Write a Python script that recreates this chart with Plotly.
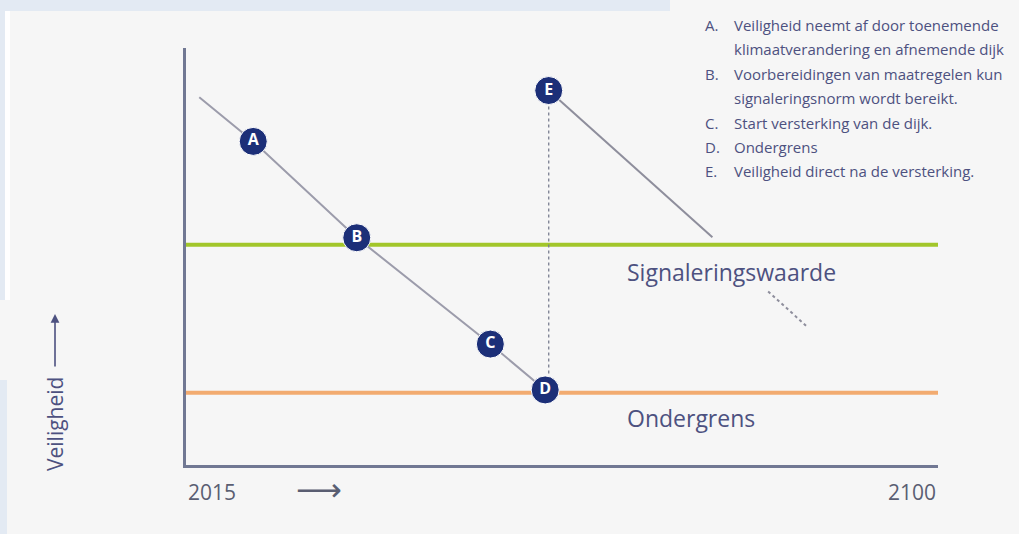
import plotly.graph_objects as go

# data (years on x, arbitrary "veiligheid" 0-100 on y)
decline_years = [2016.5, 2022.6, 2034.3, 2049.4, 2055.6]
decline_vals = [88.2, 77.6, 54.5, 29.0, 18.0]

after_years = [2056.0, 2074.5]
after_vals = [89.8, 54.6]

future_years = [2080.8, 2085.3]
future_vals = [41.6, 33.0]

lift_years = [2056.0, 2056.0]
lift_vals = [86.0, 21.0]

point_labels = ["A", "B", "C", "D", "E"]
point_years = [2022.6, 2034.3, 2049.4, 2055.6, 2056.0]
point_vals = [77.6, 54.5, 29.0, 18.0, 89.8]

signal_level = 52.8
lower_level = 17.3
x_ticks = [2015, 2100]
label_year = 2064.6

legend_lines = [
    ("A.", "Veiligheid neemt af door toenemende"),
    ("", "klimaatverandering en afnemende dijk"),
    ("B.", "Voorbereidingen van maatregelen kun"),
    ("", "signaleringsnorm wordt bereikt."),
    ("C.", "Start versterking van de dijk."),
    ("D.", "Ondergrens"),
    ("E.", "Veiligheid direct na de versterking."),
]

FONT = "'Open Sans', sans-serif"
TEXT = "#4d5180"
NAVY = "#1c2f78"

fig = go.Figure()

fig.add_trace(go.Scatter(x=[x_ticks[0], x_ticks[1]], y=[signal_level] * 2, mode="lines",
                         line=dict(color="#a2c62a", width=4), hoverinfo="skip"))
fig.add_trace(go.Scatter(x=[x_ticks[0], x_ticks[1]], y=[lower_level] * 2, mode="lines",
                         line=dict(color="#f2ab70", width=4), hoverinfo="skip"))

fig.add_trace(go.Scatter(x=decline_years, y=decline_vals, mode="lines",
                         line=dict(color="#9c9cab", width=2)))
fig.add_trace(go.Scatter(x=after_years, y=after_vals, mode="lines",
                         line=dict(color="#8e8e9c", width=2)))
fig.add_trace(go.Scatter(x=future_years, y=future_vals, mode="lines",
                         line=dict(color="#8e8e9c", width=2, dash="dot")))
fig.add_trace(go.Scatter(x=lift_years, y=lift_vals, mode="lines",
                         line=dict(color="#7a7e90", width=1.3, dash="dot")))

fig.add_trace(go.Scatter(
    x=point_years, y=point_vals, mode="markers+text",
    text=["<b>%s</b>" % s for s in point_labels],
    textposition="middle center",
    textfont=dict(color="white", size=16, family=FONT),
    marker=dict(size=28, color=NAVY, line=dict(color="white", width=1)),
))

annotations = [
    dict(x=label_year, y=signal_level, yshift=-27, text="Signaleringswaarde", xanchor="left",
         showarrow=False, font=dict(size=23, color=TEXT, family=FONT)),
    dict(x=label_year, y=lower_level, yshift=-25, text="Ondergrens", xanchor="left",
         showarrow=False, font=dict(size=23, color=TEXT, family=FONT)),
    dict(x=x_ticks[0], y=0, yshift=-27, text=str(x_ticks[0]), xanchor="left",
         showarrow=False, font=dict(size=21, color="#5a5e72", family=FONT)),
    dict(x=x_ticks[1], y=0, yshift=-27, text=str(x_ticks[1]), xanchor="right",
         showarrow=False, font=dict(size=21, color="#5a5e72", family=FONT)),
    dict(x=2030.0, y=0, yshift=-25, text="\u27f6", xanchor="center",
         showarrow=False, font=dict(size=32, color="#5a5e72", family="DejaVu Sans")),
    dict(xref="paper", yref="paper", x=(55 - 186) / 752, y=(465 - 424) / 417,
         text="Veiligheid", textangle=-90, showarrow=False,
         xanchor="center", yanchor="middle",
         font=dict(size=21, color=TEXT, family=FONT)),
    # axis arrow next to the y title
    dict(xref="paper", yref="paper", x=(55 - 186) / 752, y=(465 - 314) / 417,
         text="", showarrow=True, ax=0, ay=54, arrowhead=2, arrowsize=1.1,
         arrowwidth=1.6, arrowcolor=TEXT),
]

for i, (letter, line) in enumerate(legend_lines):
    ypx = 25 + i * 24.4
    yp = 1 + (48 - ypx) / 417
    if letter:
        annotations.append(dict(xref="paper", yref="paper", x=(703 - 186) / 752, y=yp,
                                text=letter, xanchor="left", yanchor="middle", showarrow=False,
                                font=dict(size=15, color=TEXT, family=FONT)))
    annotations.append(dict(xref="paper", yref="paper", x=(732 - 186) / 752, y=yp,
                            text=line, xanchor="left", yanchor="middle", showarrow=False,
                            font=dict(size=15, color=TEXT, family=FONT)))

shapes = [
    dict(type="rect", xref="paper", yref="paper", x0=-186 / 752, x1=(670 - 186) / 752,
         y0=1 + 37 / 417, y1=1 + 48 / 417, fillcolor="#e3eaf3", line_width=0, layer="below"),
    dict(type="rect", xref="paper", yref="paper", x0=-186 / 752, x1=-181 / 752,
         y0=1 - 252 / 417, y1=1 + 48 / 417, fillcolor="#e3eaf3", line_width=0, layer="below"),
    dict(type="rect", xref="paper", yref="paper", x0=-181 / 752, x1=-176 / 752,
         y0=1 - 252 / 417, y1=1 + 37 / 417, fillcolor="#ffffff", line_width=0, layer="below"),
    dict(type="rect", xref="paper", yref="paper", x0=-186 / 752, x1=-179 / 752,
         y0=-69 / 417, y1=1 - 332 / 417, fillcolor="#e3eaf3", line_width=0, layer="below"),
]

fig.update_layout(
    width=1019, height=534,
    margin=dict(l=186, r=81, t=48, b=69),
    paper_bgcolor="#f6f6f6", plot_bgcolor="#f6f6f6",
    showlegend=False,
    annotations=annotations,
    shapes=shapes,
    xaxis=dict(range=[2015, 2100], showgrid=False, zeroline=False, showticklabels=False,
               showline=True, linecolor="#717893", linewidth=2.5, fixedrange=True),
    yaxis=dict(range=[0, 100], showgrid=False, zeroline=False, showticklabels=False,
               showline=True, linecolor="#717893", linewidth=2.5, fixedrange=True),
)

fig.write_html("out.html", config={"displayModeBar": False},
               post_script="document.body.style.margin='0';")
